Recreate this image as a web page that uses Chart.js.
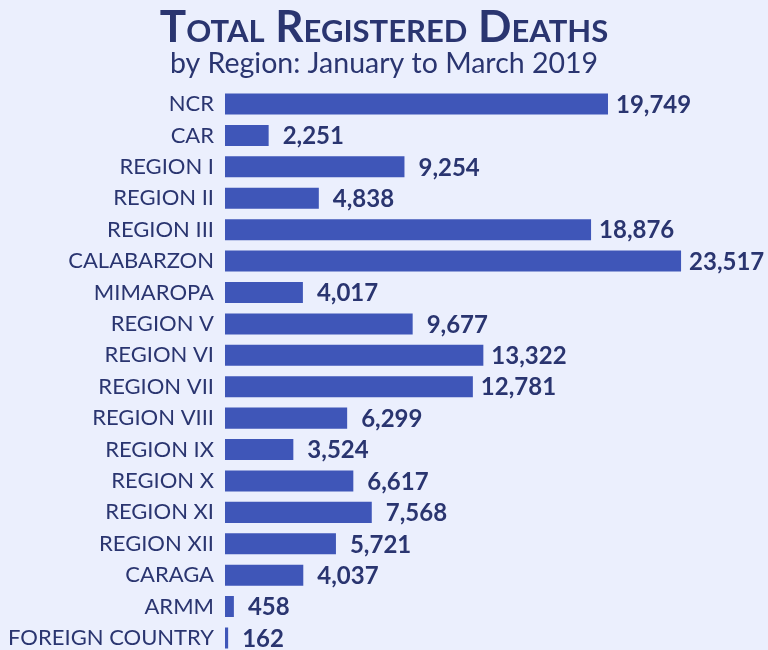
<!DOCTYPE html>
<html>
<head>
<meta charset="utf-8">
<script src="https://cdn.jsdelivr.net/npm/chart.js@4"></script>
<style>
  html, body { margin: 0; padding: 0; background: #ebeffd; overflow: hidden; }
  canvas { display: block; }
</style>
</head>
<body>
<canvas id="deaths-chart" width="768" height="660"></canvas>
<script>
var regions = ['NCR', 'CAR', 'REGION I', 'REGION II', 'REGION III', 'CALABARZON', 'MIMAROPA',
  'REGION V', 'REGION VI', 'REGION VII', 'REGION VIII', 'REGION IX', 'REGION X', 'REGION XI',
  'REGION XII', 'CARAGA', 'ARMM', 'FOREIGN COUNTRY'];
var deaths = [19749, 2251, 9254, 4838, 18876, 23517, 4017, 9677, 13322, 12781, 6299, 3524,
  6617, 7568, 5721, 4037, 458, 162];

var titleText = 'Total Registered Deaths';
var subtitleText = 'by Region: January to March 2019';
var textColor = '#2a3570';
var barColor = '#3f56b8';

// title in small caps (chart.js font options can't do that), drawn in the title box
var smallCapsTitle = {
  id: 'smallCapsTitle',
  afterDraw: function (chart) {
    var ctx = chart.ctx;
    var box = chart.titleBlock;
    ctx.save();
    ctx.font = 'bold 44px Lato';
    ctx.fontVariantCaps = 'small-caps';
    ctx.fillStyle = textColor;
    ctx.textAlign = 'center';
    ctx.textBaseline = 'alphabetic';
    ctx.fillText(titleText, chart.width / 2, box.top + 42);
    ctx.restore();
  }
};

// value labels at the end of each bar
var valueLabels = {
  id: 'valueLabels',
  afterDatasetsDraw: function (chart) {
    var ctx = chart.ctx;
    var meta = chart.getDatasetMeta(0);
    ctx.save();
    ctx.font = 'bold 24px Lato';
    ctx.fillStyle = textColor;
    ctx.textAlign = 'left';
    ctx.textBaseline = 'middle';
    meta.data.forEach(function (bar, i) {
      var gap = deaths[i] >= 10000 ? 8 : 14;
      ctx.fillText(deaths[i].toLocaleString('en-US'), bar.x + gap, bar.y + 1);
    });
    ctx.restore();
  }
};

var chartContext = document.getElementById('deaths-chart');
var deathsChart = new Chart(chartContext, {
  type: 'bar',
  data: {
    labels: regions,
    datasets: [{
      data: deaths,
      backgroundColor: barColor,
      barPercentage: 0.67,
      categoryPercentage: 1
    }]
  },
  options: {
    indexAxis: 'y',
    responsive: false,
    animation: false,
    layout: { padding: { left: 0, right: 0, top: 0, bottom: 6.3 } },
    scales: {
      x: { display: false, min: 0, max: 28000 },
      y: {
        grid: { display: false, drawTicks: false },
        border: { display: false },
        ticks: { color: textColor, font: { family: 'Lato', size: 22 }, padding: 11 },
        afterFit: function (scale) {
          scale.width = 225;
          // no extra room for the half label above/below the rows
          scale.paddingTop = 0;
          scale.paddingBottom = 0;
        }
      }
    },
    plugins: {
      legend: { display: false },
      tooltip: { enabled: false },
      title: {
        display: true,
        text: titleText,
        color: 'rgba(0,0,0,0)',
        font: { family: 'Lato', size: 38, weight: 'bold', lineHeight: 1.242 },
        padding: 0
      },
      subtitle: {
        display: true,
        text: subtitleText,
        color: textColor,
        font: { family: 'Lato', size: 28.5, lineHeight: 1.18 },
        padding: { top: 0, bottom: 7.5 }
      }
    }
  },
  plugins: [smallCapsTitle, valueLabels]
});
</script>
</body>
</html>
